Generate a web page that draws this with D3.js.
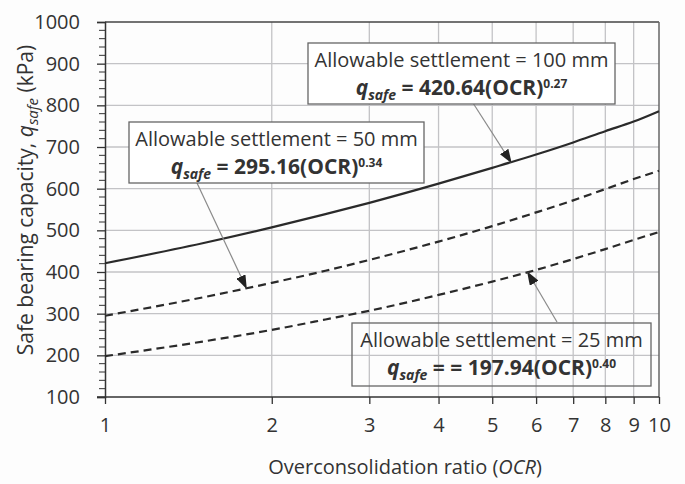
<!DOCTYPE html>
<html>
<head>
<meta charset="utf-8">
<script src="https://cdn.jsdelivr.net/npm/d3@7"></script>
<style>
  body { margin: 0; background: #fdfdfd; }
  svg { display: block; font-family: "Open Sans", sans-serif; }
</style>
</head>
<body>
<div id="chart"></div>
<script>
// values
var ocr = [1, 1.5, 2, 2.5, 3, 4, 5, 6, 7, 8, 9, 10];
var q100 = [421, 469, 507, 539, 566, 612, 650, 682, 711, 738, 761, 786];
var q50 = [295, 339, 374, 403, 429, 473, 510, 543, 572, 599, 623, 643];
var q25 = [198, 233, 261, 286, 307, 345, 377, 405, 431, 455, 477, 496];
var xTicks = [1, 2, 3, 4, 5, 6, 7, 8, 9, 10];
var yTicks = [100, 200, 300, 400, 500, 600, 700, 800, 900, 1000];

var width = 685, height = 484;
var margin = {top: 22, right: 26, bottom: 87, left: 105};

var svg = d3.select("#chart").append("svg")
  .attr("width", width)
  .attr("height", height);

var x = d3.scaleLog().domain([1, 10]).range([margin.left, width - margin.right]);
var y = d3.scaleLinear().domain([100, 1000]).range([height - margin.bottom, margin.top]);

var ink = "#333";

// grid
svg.append("g").selectAll("line.h")
  .data(yTicks.slice(1, -1))
  .join("line")
  .attr("x1", x(1)).attr("x2", x(10))
  .attr("y1", d => y(d)).attr("y2", d => y(d))
  .attr("stroke", "#c3c3c6").attr("stroke-width", 1.3);
svg.append("g").selectAll("line.v")
  .data(xTicks.slice(1, -1))
  .join("line")
  .attr("x1", d => x(d)).attr("x2", d => x(d))
  .attr("y1", y(100)).attr("y2", y(1000))
  .attr("stroke", "#c3c3c6").attr("stroke-width", 1.3);

// frame
svg.append("line").attr("x1", x(1)).attr("x2", x(10)).attr("y1", y(1000)).attr("y2", y(1000))
  .attr("stroke", "#444").attr("stroke-width", 1.5);
svg.append("line").attr("x1", x(10)).attr("x2", x(10)).attr("y1", y(1000)).attr("y2", y(100))
  .attr("stroke", "#666").attr("stroke-width", 1.5);

// y axis
var yAxis = d3.axisLeft(y).tickValues(yTicks).tickFormat(d3.format("d")).tickSize(8).tickPadding(17);
var gy = svg.append("g").attr("transform", "translate(" + x(1) + ",0)").call(yAxis);
gy.selectAll(".tick text").attr("font-size", 20).attr("fill", ink).attr("font-family", "Open Sans");
gy.append("g").selectAll("line")
  .data(d3.range(120, 1000, 20).filter(d => d % 100 !== 0))
  .join("line")
  .attr("x1", -6).attr("x2", 0)
  .attr("y1", d => y(d)).attr("y2", d => y(d))
  .attr("stroke", ink);

// x axis
var xAxis = d3.axisBottom(x).tickValues(xTicks).tickFormat(d3.format("d")).tickSize(7).tickPadding(14);
var gx = svg.append("g").attr("transform", "translate(0," + y(100) + ")").call(xAxis);
gx.selectAll(".tick text").attr("font-size", 20).attr("fill", ink).attr("font-family", "Open Sans");
svg.selectAll(".domain").attr("stroke", ink).attr("stroke-width", 1.5);
svg.selectAll(".tick line").attr("stroke", ink).attr("stroke-width", 1.3);
gx.select(".domain").attr("d", "M" + (x(1) - 8) + ",0H" + x(10));

// curves
var line = d3.line().x(d => x(d[0])).y(d => y(d[1])).curve(d3.curveMonotoneX);
var series = [
  {vals: q100, dash: null},
  {vals: q50, dash: "8,5"},
  {vals: q25, dash: "8,5"}
];
svg.append("g").selectAll("path")
  .data(series)
  .join("path")
  .attr("d", s => line(ocr.map((o, i) => [o, s.vals[i]])))
  .attr("fill", "none")
  .attr("stroke", "#2a2a2a")
  .attr("stroke-width", 2.2)
  .attr("stroke-dasharray", s => s.dash);

// axis titles
svg.append("text")
  .attr("x", 405).attr("y", 474)
  .attr("text-anchor", "middle")
  .attr("font-size", 20).attr("fill", ink)
  .call(t => {
    t.append("tspan").text("Overconsolidation ratio (");
    t.append("tspan").attr("font-style", "italic").text("OCR");
    t.append("tspan").text(")");
  });

svg.append("text")
  .attr("transform", "translate(33,200) rotate(-90)")
  .attr("text-anchor", "middle")
  .attr("font-size", 21).attr("fill", ink)
  .call(t => {
    t.append("tspan").text("Safe bearing capacity, ");
    t.append("tspan").attr("font-style", "italic").text("q");
    t.append("tspan").attr("font-style", "italic").attr("font-size", 15).attr("dy", 5).text("safe");
    t.append("tspan").attr("dy", -5).text("  (kPa)");
  });

// annotations
svg.append("defs").append("marker")
  .attr("id", "arr")
  .attr("viewBox", "0 -5 14 10")
  .attr("refX", 13).attr("refY", 0)
  .attr("markerUnits", "userSpaceOnUse")
  .attr("markerWidth", 14).attr("markerHeight", 10)
  .attr("orient", "auto")
  .append("path").attr("d", "M0,-5L14,0L0,5Z").attr("fill", "#222");

var notes = [
  {mm: "100", coef: "420.64", exp: "0.27", box: [308, 43, 307, 61], fill: "#fff",
   from: [473, 103], tip: [5.41, 663], eq2: false},
  {mm: "50", coef: "295.16", exp: "0.34", box: [129, 122, 295, 61], fill: "#fff",
   from: [197, 183], tip: [1.80, 361], eq2: false},
  {mm: "25", coef: "197.94", exp: "0.40", box: [352, 323, 299, 63], fill: "none",
   from: [557, 322], tip: [5.79, 400], eq2: true}
];

notes.forEach(function(n) {
  svg.append("line")
    .attr("x1", n.from[0]).attr("y1", n.from[1])
    .attr("x2", x(n.tip[0])).attr("y2", y(n.tip[1]))
    .attr("stroke", "#8a8a8a").attr("stroke-width", 1.2)
    .attr("marker-end", "url(#arr)");
  var b = n.box;
  svg.append("rect")
    .attr("x", b[0]).attr("y", b[1]).attr("width", b[2]).attr("height", b[3])
    .attr("fill", n.fill).attr("stroke", "#666").attr("stroke-width", 1.3);
  var cx = b[0] + b[2] / 2;
  svg.append("text")
    .attr("x", cx).attr("y", b[1] + 24)
    .attr("text-anchor", "middle").attr("font-size", 20).attr("fill", ink)
    .text("Allowable settlement = " + n.mm + " mm");
  var t = svg.append("text")
    .attr("x", cx).attr("y", b[1] + 52)
    .attr("text-anchor", "middle").attr("font-size", 21).attr("fill", ink)
    .attr("font-weight", "bold");
  t.append("tspan").attr("font-style", "italic").text("q");
  t.append("tspan").attr("font-style", "italic").attr("font-size", 14).attr("dy", 5).text("safe");
  t.append("tspan").attr("dy", -5).text(n.eq2 ? " = = " : " = ");
  t.append("tspan").text(n.coef + "(OCR)");
  t.append("tspan").attr("font-size", 12).attr("dy", -7).text(n.exp);
});
</script>
</body>
</html>
